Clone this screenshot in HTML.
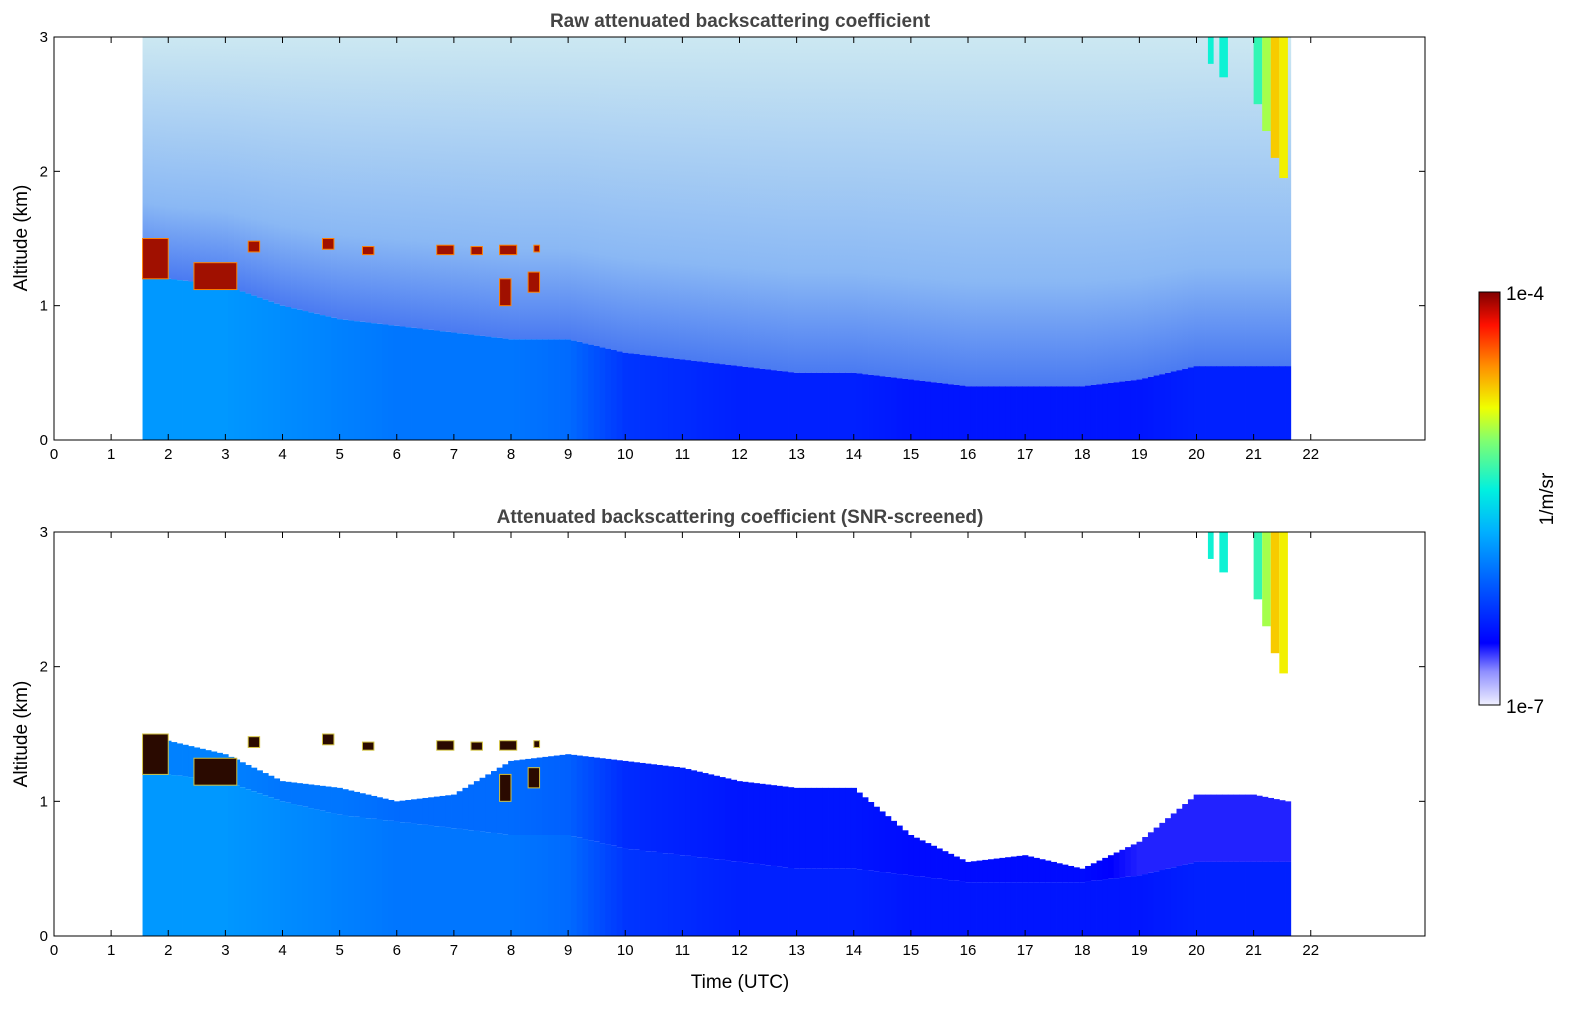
<!DOCTYPE html>
<html><head><meta charset="utf-8"><style>
html,body{margin:0;padding:0;background:#fff;overflow:hidden;width:1595px;height:1020px;}
svg{display:block;font-family:"Liberation Sans","DejaVu Sans",sans-serif;}
</style></head><body>
<svg id="chart" width="1595" height="1020" viewBox="0 0 1595 1020" xmlns="http://www.w3.org/2000/svg">
<defs>
<linearGradient id="cbar" x1="0" y1="1" x2="0" y2="0">
<stop offset="0" stop-color="#f0f0ff"/><stop offset="0.08" stop-color="#9090ff"/>
<stop offset="0.15" stop-color="#0000ff"/><stop offset="0.3" stop-color="#0060ff"/>
<stop offset="0.42" stop-color="#00b0ff"/><stop offset="0.52" stop-color="#00f0e0"/>
<stop offset="0.64" stop-color="#80ff70"/><stop offset="0.72" stop-color="#f0ff00"/>
<stop offset="0.82" stop-color="#ff9000"/><stop offset="0.92" stop-color="#ff1000"/>
<stop offset="1" stop-color="#800000"/></linearGradient>
<linearGradient id="noiseTop" x1="0" y1="1" x2="0" y2="0">
<stop offset="0" stop-color="#4a7af2"/><stop offset="0.3" stop-color="#8ab8f4"/>
<stop offset="1" stop-color="#cce8f2"/></linearGradient>
</defs>
<g id="panel1"></g>
<g id="panel2"></g>
<text x="740" y="27" text-anchor="middle" font-size="19" font-weight="bold" fill="#444">Raw attenuated backscattering coefficient</text>
<text x="740" y="523" text-anchor="middle" font-size="19" font-weight="bold" fill="#444">Attenuated backscattering coefficient (SNR-screened)</text>
<text transform="translate(27,238) rotate(-90)" text-anchor="middle" font-size="19">Altitude (km)</text>
<text transform="translate(27,734) rotate(-90)" text-anchor="middle" font-size="19">Altitude (km)</text>
<text x="740" y="988" text-anchor="middle" font-size="19">Time (UTC)</text>
<rect x="1479" y="292" width="21" height="413" fill="url(#cbar)" stroke="#000" stroke-width="1"/>
<text x="1506" y="300" font-size="19">1e-4</text>
<text x="1506" y="713" font-size="19">1e-7</text>
<text transform="translate(1553,499) rotate(-90)" text-anchor="middle" font-size="19">1/m/sr</text>
</svg>
<script>
// ---- data ----
const hours       = [1.55,2,3,4,5,6,7,8,9,10,11,12,13,14,15,16,17,18,19,20,21,21.6];
const aerosolTop  = [1.25,1.2,1.15,1.0,0.9,0.85,0.8,0.75,0.75,0.65,0.6,0.55,0.5,0.5,0.45,0.4,0.4,0.4,0.45,0.55,0.55,0.55];
const aerosolLog  = [-5.85,-5.85,-5.85,-5.9,-5.95,-6.0,-6.0,-6.0,-6.05,-6.3,-6.35,-6.4,-6.4,-6.4,-6.45,-6.45,-6.45,-6.45,-6.45,-6.4,-6.4,-6.4];
const screenTop   = [1.5,1.45,1.35,1.15,1.1,1.0,1.05,1.3,1.35,1.3,1.25,1.15,1.1,1.1,0.75,0.55,0.6,0.5,0.7,1.05,1.05,1.0];
const screenLog   = [-5.95,-5.95,-5.95,-6.0,-6.0,-6.05,-6.05,-6.05,-6.1,-6.35,-6.4,-6.45,-6.45,-6.45,-6.5,-6.5,-6.5,-6.5,-6.6,-6.6,-6.6,-6.6];
// cloud segments: start hour, end hour, base km, top km
const cloudStart = [1.55,2.45,3.4,4.7,5.4,6.7,7.3,7.8,7.8,8.3,8.4];
const cloudEnd   = [2.0,3.2,3.6,4.9,5.6,7.0,7.5,8.0,8.1,8.5,8.5];
const cloudBase  = [1.2,1.12,1.4,1.42,1.38,1.38,1.38,1.0,1.38,1.1,1.4];
const cloudTop   = [1.5,1.32,1.48,1.5,1.44,1.45,1.44,1.2,1.45,1.25,1.45];
// high cloud segments near 20-21.6 h
const highStart  = [20.2,20.4,21.0,21.15,21.3,21.45];
const highEnd    = [20.3,20.55,21.15,21.3,21.45,21.6];
const highBase   = [2.8,2.7,2.5,2.3,2.1,1.95];
const highLog    = [-5.4,-5.4,-5.3,-5.0,-4.7,-4.8];
const xTicks = [0,1,2,3,4,5,6,7,8,9,10,11,12,13,14,15,16,17,18,19,20,21,22];
const yTicks = [0,1,2,3];

// ---- axes ----
const X0=54, X1=1425, XMAX=24;
const xs = h => X0 + h*(X1-X0)/XMAX;
const panels = [{g:'panel1',top:37,bot:440,screened:false},{g:'panel2',top:532,bot:936,screened:true}];
const NS='http://www.w3.org/2000/svg';
function interp(arr,h){
  if(h<=hours[0]) return arr[0];
  for(let i=1;i<hours.length;i++){ if(h<=hours[i]){const t=(h-hours[i-1])/(hours[i]-hours[i-1]); return arr[i-1]+(arr[i]-arr[i-1])*t;} }
  return arr[arr.length-1];
}
const cstops=[[0,[240,240,255]],[0.08,[144,144,255]],[0.15,[0,0,255]],[0.3,[0,96,255]],[0.42,[0,176,255]],[0.52,[0,240,224]],[0.64,[128,255,112]],[0.72,[240,255,0]],[0.82,[255,144,0]],[0.92,[255,16,0]],[1,[128,0,0]]];
function cmap(v){
  let t=Math.max(0,Math.min(1,(v+7)/3));
  for(let i=1;i<cstops.length;i++){ if(t<=cstops[i][0]){const a=cstops[i-1],b=cstops[i];const f=(t-a[0])/(b[0]-a[0]);
    const c=a[1].map((x,k)=>Math.round(x+(b[1][k]-x)*f)); return 'rgb('+c.join(',')+')';} }
  return 'rgb(128,0,0)';
}
function mk(parent,tag,attrs){ const e=document.createElementNS(NS,tag); for(const k in attrs) e.setAttribute(k,attrs[k]); parent.appendChild(e); return e; }

panels.forEach((p,pi)=>{
  const g=document.getElementById(p.g);
  const ys = a => p.bot - a*(p.bot-p.top)/3;
  const step=0.1;
  for(let h=hours[0]; h<hours[hours.length-1]-1e-6; h+=step){
    const hm=h+step/2, x=xs(h), w=xs(h+step)-x+0.4;
    const top=interp(aerosolTop,hm), lv=interp(aerosolLog,hm);
    if(!p.screened){
      const n=mk(g,'rect',{x:x,y:p.top,width:w,height:ys(top)-p.top,fill:'url(#noiseTop)'});
      
      
    } else {
      const st=interp(screenTop,hm), sv=interp(screenLog,hm);
      if(st>top){ const s=mk(g,'rect',{x:x,y:ys(st),width:w,height:ys(top)-ys(st),fill:cmap(sv)});
        
         }
    }
    const a=mk(g,'rect',{x:x,y:ys(top),width:w,height:p.bot-ys(top),fill:cmap(lv)});
    
    
  }
  for(let i=0;i<cloudStart.length;i++){
    const c=mk(g,'rect',{x:xs(cloudStart[i]),y:ys(cloudTop[i]),width:xs(cloudEnd[i])-xs(cloudStart[i]),height:ys(cloudBase[i])-ys(cloudTop[i]),fill:p.screened?'#2a0a00':'#a01000',stroke:p.screened?'#d0c040':'#ff8000','stroke-width':1});
    
    
  }
  for(let i=0;i<highStart.length;i++){
    const hc=mk(g,'rect',{x:xs(highStart[i]),y:p.top,width:xs(highEnd[i])-xs(highStart[i]),height:ys(highBase[i])-p.top,fill:cmap(highLog[i])});
    
    
  }
  const fr=mk(g,'rect',{x:X0,y:p.top,width:X1-X0,height:p.bot-p.top,fill:'none',stroke:'#000','stroke-width':1});
  
  
  xTicks.forEach(t=>{
    const X=xs(t);
    mk(g,'line',{x1:X,x2:X,y1:p.bot,y2:p.bot-6,stroke:'#000'});
    mk(g,'line',{x1:X,x2:X,y1:p.top,y2:p.top+6,stroke:'#000'});
    const tl=mk(g,'text',{x:X,y:p.bot+19,'text-anchor':'middle','font-size':15});
    
    
    tl.textContent=t;
  });
  yTicks.forEach(t=>{
    const Y=ys(t);
    mk(g,'line',{x1:X0,x2:X0+6,y1:Y,y2:Y,stroke:'#000'});
    mk(g,'line',{x1:X1,x2:X1-6,y1:Y,y2:Y,stroke:'#000'});
    const tl=mk(g,'text',{x:X0-6,y:Y+5,'text-anchor':'end','font-size':15});
    
    
    tl.textContent=t;
  });
});
</script>
</body></html>
